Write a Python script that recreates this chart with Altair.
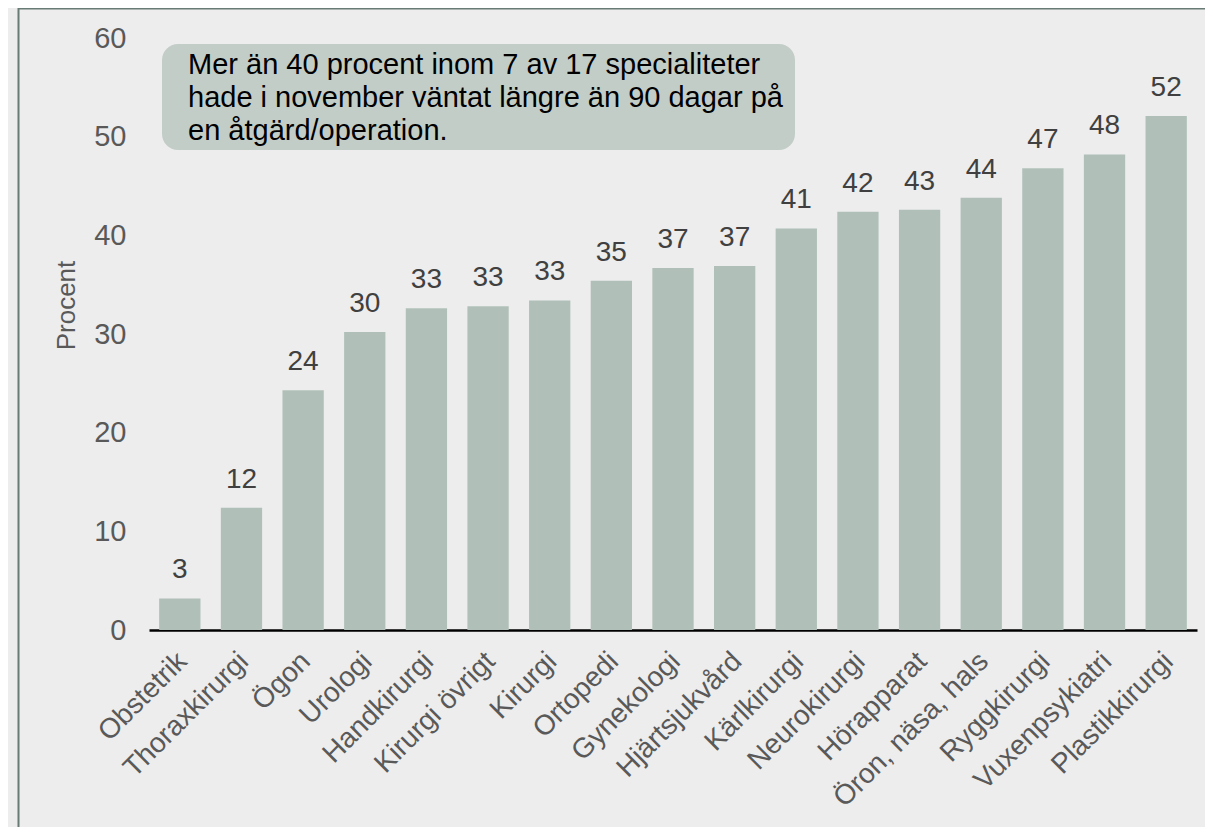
import altair as alt
import pandas as pd

categories = ["Obstetrik", "Thoraxkirurgi", "Ögon", "Urologi", "Handkirurgi",
              "Kirurgi övrigt", "Kirurgi", "Ortopedi", "Gynekologi", "Hjärtsjukvård",
              "Kärlkirurgi", "Neurokirurgi", "Hörapparat", "Öron, näsa, hals",
              "Ryggkirurgi", "Vuxenpsykiatri", "Plastikkirurgi"]
values = [3.2, 12.4, 24.3, 30.2, 32.6, 32.8, 33.4, 35.4, 36.7, 36.9,
          40.7, 42.4, 42.6, 43.8, 46.8, 48.2, 52.1]
y_ticks = [0, 10, 20, 30, 40, 50, 60]
note = ["Mer än 40 procent inom 7 av 17 specialiteter",
        "hade i november väntat längre än 90 dagar på",
        "en åtgärd/operation."]

FONT = "Liberation Sans"
BG = "#ededed"
BAR = "#b0c0b9"
BOX = "#c3cdc7"
FRAME = "#687b74"

df = pd.DataFrame({"cat": categories, "val": values})
one = pd.DataFrame({"a": [0]})

x_enc = alt.X("cat:N", sort=categories, title=None,
              scale=alt.Scale(paddingInner=0.33, paddingOuter=0.165),
              axis=alt.Axis(labelAngle=-45, labelAlign="right", labelBaseline="top",
                            labelPadding=17, labelOffset=-7, ticks=False, labelLimit=0,
                            domainColor="#000000", domainWidth=2.5,
                            labelFont=FONT, labelFontSize=28, labelColor="#595959"))
y_enc = alt.Y("val:Q", title="Procent",
              scale=alt.Scale(domain=[0, 60], nice=False, zero=True),
              axis=alt.Axis(values=y_ticks, grid=False, domain=False, ticks=False,
                            tickSize=0, labelPadding=23, labelFont=FONT,
                            labelFontSize=29, labelColor="#595959",
                            titleFont=FONT, titleFontSize=26, titleFontWeight="normal",
                            titleColor="#595959", titleX=-83, titleY=267,
                            titleAlign="center", titleBaseline="middle"))

bars = alt.Chart(df).mark_bar(color=BAR).encode(x=x_enc, y=y_enc)

labels = alt.Chart(df).mark_text(font=FONT, fontSize=28, color="#404040",
                                 baseline="alphabetic", dy=-20).encode(
    x=alt.X("cat:N", sort=categories),
    y=alt.Y("val:Q"),
    text=alt.Text("val:Q", format=".0f"))

frame = alt.Chart(one).mark_rect(filled=False, stroke=FRAME, strokeWidth=2).encode(
    x=alt.value(-130.5), x2=alt.value(1200), y=alt.value(-29.5), y2=alt.value(900))

box = alt.Chart(one).mark_rect(color=BOX, cornerRadius=16).encode(
    x=alt.value(13), x2=alt.value(646), y=alt.value(6), y2=alt.value(112))

note_df = pd.DataFrame({"t": ["\n".join(note)]})
note_text = alt.Chart(note_df).mark_text(font=FONT, fontSize=29, color="#000000",
                                         align="left", baseline="alphabetic",
                                         lineBreak="\n", lineHeight=33).encode(
    x=alt.value(39), y=alt.value(36), text="t:N")

chart = alt.layer(frame, bars, labels, box, note_text).properties(
    width=1048, height=592,
    autosize=alt.AutoSizeParams(type="none"),
    padding={"left": 141, "top": 30, "right": 8, "bottom": 197},
    background=BG,
).configure_view(stroke=None)

chart.save("out.html", embed_options={"renderer": "svg", "actions": False})
